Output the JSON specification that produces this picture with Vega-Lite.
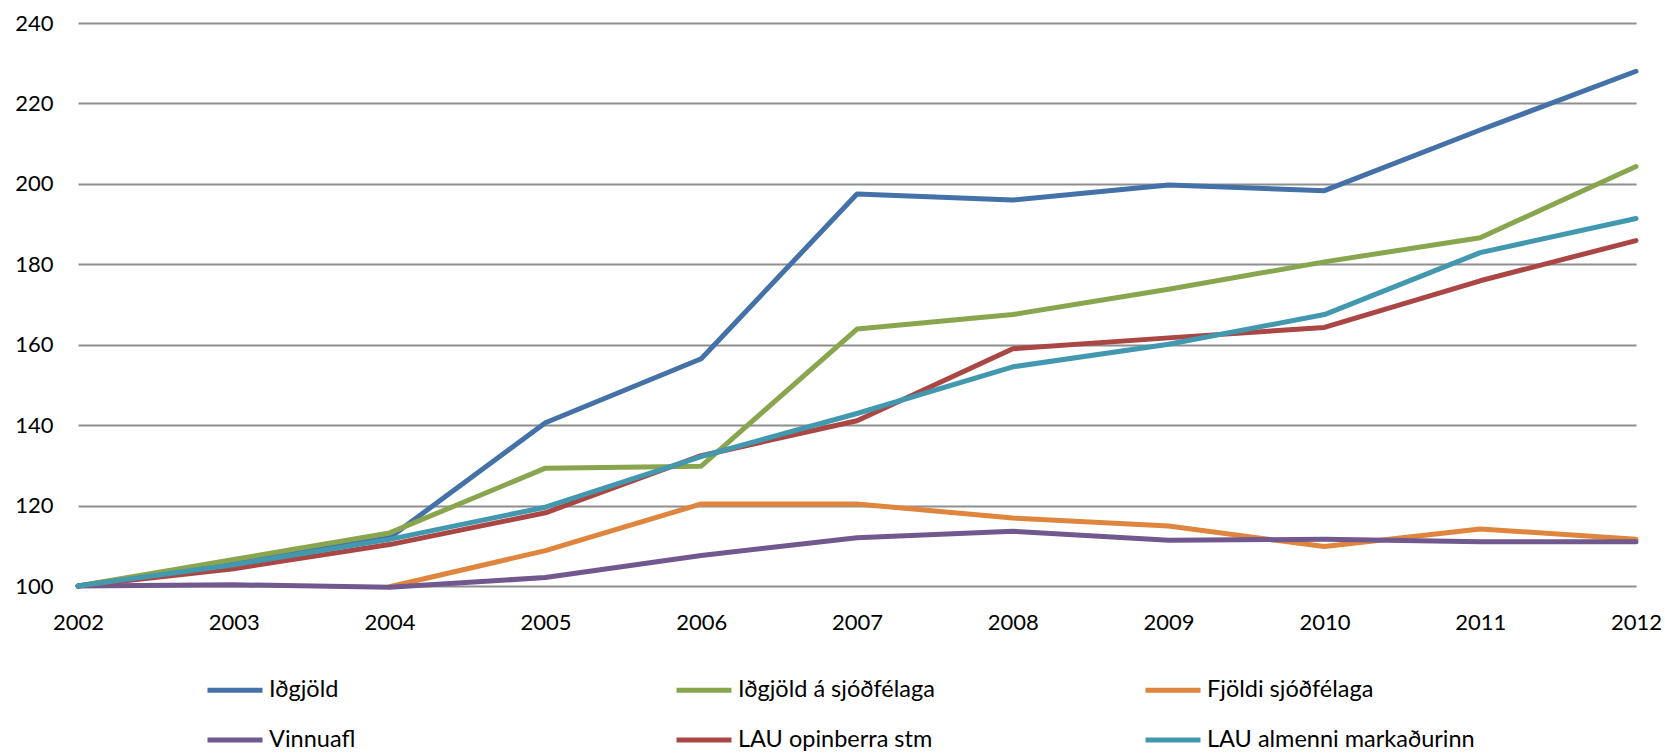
{
  "$schema": "https://vega.github.io/schema/vega-lite/v6.json",
  "width": 1558,
  "height": 563,
  "autosize": "none",
  "padding": {"left": 78, "top": 23, "right": 29, "bottom": 168},
  "background": "white",
  "config": {
    "font": "Lato",
    "view": {"stroke": null}
  },
  "data": {
    "values": [
      {"year": "2002", "series": "Iðgjöld", "value": 100},
      {"year": "2003", "series": "Iðgjöld", "value": 106},
      {"year": "2004", "series": "Iðgjöld", "value": 112},
      {"year": "2005", "series": "Iðgjöld", "value": 140.6},
      {"year": "2006", "series": "Iðgjöld", "value": 156.5},
      {"year": "2007", "series": "Iðgjöld", "value": 197.5},
      {"year": "2008", "series": "Iðgjöld", "value": 196},
      {"year": "2009", "series": "Iðgjöld", "value": 199.7},
      {"year": "2010", "series": "Iðgjöld", "value": 198.3},
      {"year": "2011", "series": "Iðgjöld", "value": 213.4},
      {"year": "2012", "series": "Iðgjöld", "value": 228},

      {"year": "2002", "series": "Iðgjöld á sjóðfélaga", "value": 100},
      {"year": "2003", "series": "Iðgjöld á sjóðfélaga", "value": 106.6},
      {"year": "2004", "series": "Iðgjöld á sjóðfélaga", "value": 113.2},
      {"year": "2005", "series": "Iðgjöld á sjóðfélaga", "value": 129.3},
      {"year": "2006", "series": "Iðgjöld á sjóðfélaga", "value": 129.8},
      {"year": "2007", "series": "Iðgjöld á sjóðfélaga", "value": 163.9},
      {"year": "2008", "series": "Iðgjöld á sjóðfélaga", "value": 167.5},
      {"year": "2009", "series": "Iðgjöld á sjóðfélaga", "value": 173.8},
      {"year": "2010", "series": "Iðgjöld á sjóðfélaga", "value": 180.6},
      {"year": "2011", "series": "Iðgjöld á sjóðfélaga", "value": 186.6},
      {"year": "2012", "series": "Iðgjöld á sjóðfélaga", "value": 204.3},

      {"year": "2004", "series": "Fjöldi sjóðfélaga", "value": 99.8},
      {"year": "2005", "series": "Fjöldi sjóðfélaga", "value": 108.8},
      {"year": "2006", "series": "Fjöldi sjóðfélaga", "value": 120.4},
      {"year": "2007", "series": "Fjöldi sjóðfélaga", "value": 120.4},
      {"year": "2008", "series": "Fjöldi sjóðfélaga", "value": 116.9},
      {"year": "2009", "series": "Fjöldi sjóðfélaga", "value": 114.9},
      {"year": "2010", "series": "Fjöldi sjóðfélaga", "value": 109.8},
      {"year": "2011", "series": "Fjöldi sjóðfélaga", "value": 114.2},
      {"year": "2012", "series": "Fjöldi sjóðfélaga", "value": 111.6},

      {"year": "2002", "series": "Vinnuafl", "value": 100},
      {"year": "2003", "series": "Vinnuafl", "value": 100.3},
      {"year": "2004", "series": "Vinnuafl", "value": 99.7},
      {"year": "2005", "series": "Vinnuafl", "value": 102.1},
      {"year": "2006", "series": "Vinnuafl", "value": 107.6},
      {"year": "2007", "series": "Vinnuafl", "value": 112},
      {"year": "2008", "series": "Vinnuafl", "value": 113.6},
      {"year": "2009", "series": "Vinnuafl", "value": 111.4},
      {"year": "2010", "series": "Vinnuafl", "value": 111.6},
      {"year": "2011", "series": "Vinnuafl", "value": 111},
      {"year": "2012", "series": "Vinnuafl", "value": 111},

      {"year": "2002", "series": "LAU opinberra stm", "value": 100},
      {"year": "2003", "series": "LAU opinberra stm", "value": 104.3},
      {"year": "2004", "series": "LAU opinberra stm", "value": 110.3},
      {"year": "2005", "series": "LAU opinberra stm", "value": 118.2},
      {"year": "2006", "series": "LAU opinberra stm", "value": 132.4},
      {"year": "2007", "series": "LAU opinberra stm", "value": 141.1},
      {"year": "2008", "series": "LAU opinberra stm", "value": 159},
      {"year": "2009", "series": "LAU opinberra stm", "value": 161.7},
      {"year": "2010", "series": "LAU opinberra stm", "value": 164.3},
      {"year": "2011", "series": "LAU opinberra stm", "value": 175.9},
      {"year": "2012", "series": "LAU opinberra stm", "value": 185.9},

      {"year": "2002", "series": "LAU almenni markaðurinn", "value": 100},
      {"year": "2003", "series": "LAU almenni markaðurinn", "value": 105.3},
      {"year": "2004", "series": "LAU almenni markaðurinn", "value": 111.6},
      {"year": "2005", "series": "LAU almenni markaðurinn", "value": 119.6},
      {"year": "2006", "series": "LAU almenni markaðurinn", "value": 132.2},
      {"year": "2007", "series": "LAU almenni markaðurinn", "value": 142.9},
      {"year": "2008", "series": "LAU almenni markaðurinn", "value": 154.5},
      {"year": "2009", "series": "LAU almenni markaðurinn", "value": 160.1},
      {"year": "2010", "series": "LAU almenni markaðurinn", "value": 167.5},
      {"year": "2011", "series": "LAU almenni markaðurinn", "value": 182.9},
      {"year": "2012", "series": "LAU almenni markaðurinn", "value": 191.4}
    ]
  },
  "mark": {"type": "line", "strokeWidth": 5, "strokeJoin": "round", "strokeCap": "round"},
  "encoding": {
    "x": {
      "field": "year",
      "type": "ordinal",
      "scale": {"type": "point", "padding": 0},
      "axis": {
        "title": null,
        "labelAngle": 0,
        "labelFontSize": 22,
        "labelColor": "black",
        "labelPadding": 26,
        "ticks": false,
        "domain": false,
        "grid": false
      }
    },
    "y": {
      "field": "value",
      "type": "quantitative",
      "scale": {"domain": [100, 240], "nice": false, "zero": false},
      "axis": {
        "title": null,
        "values": [100, 120, 140, 160, 180, 200, 220, 240],
        "labelFontSize": 22,
        "labelColor": "black",
        "labelPadding": 25,
        "ticks": false,
        "domain": false,
        "grid": true,
        "gridColor": "#8e8e8e",
        "gridWidth": 2,
        "gridOpacity": 1
      }
    },
    "color": {
      "field": "series",
      "type": "nominal",
      "sort": ["Iðgjöld", "Iðgjöld á sjóðfélaga", "Fjöldi sjóðfélaga", "Vinnuafl", "LAU opinberra stm", "LAU almenni markaðurinn"],
      "scale": {
        "domain": ["Iðgjöld", "Iðgjöld á sjóðfélaga", "Fjöldi sjóðfélaga", "Vinnuafl", "LAU opinberra stm", "LAU almenni markaðurinn"],
        "range": ["#4471a8", "#89a54e", "#e0853d", "#71588f", "#aa4643", "#4198af"]
      },
      "legend": {
        "title": null,
        "orient": "none",
        "legendX": 127,
        "legendY": 637,
        "direction": "horizontal",
        "columns": 3,
        "gridAlign": "all",
        "columnPadding": 129,
        "rowPadding": 8,
        "symbolType": "stroke",
        "symbolSize": 3025,
        "symbolStrokeWidth": 5,
        "labelFontSize": 23.5,
        "labelColor": "black",
        "labelOffset": 4,
        "labelLimit": 400
      }
    },
    "order": {"field": "series"}
  }
}
